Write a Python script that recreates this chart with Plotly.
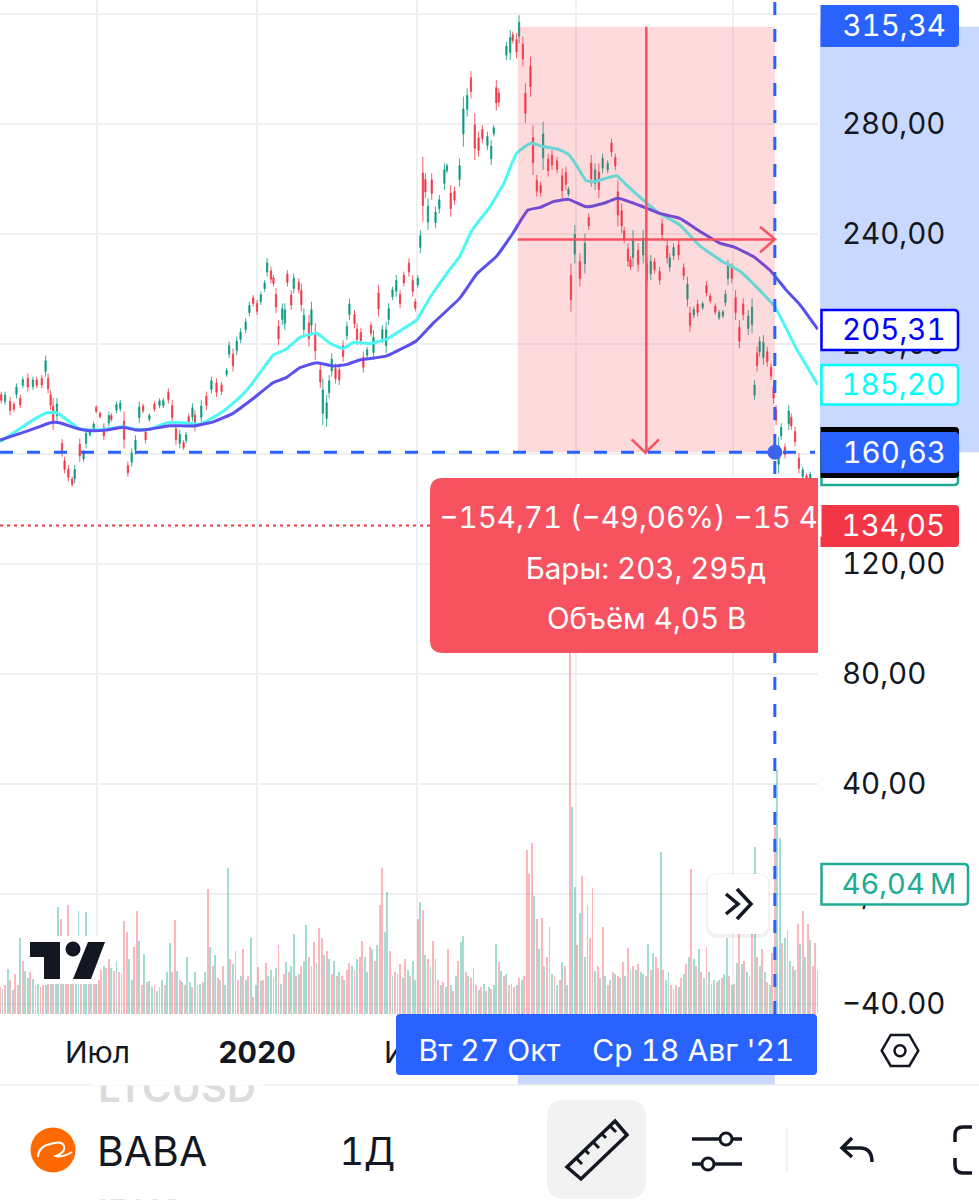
import plotly.graph_objects as go

FONT = "Inter"
INK = "#131722"
BLUE = "#2962ff"
RED = "#f23645"
TEAL = "#089981"
PINK = "#f7525f"
BAND = "#c8d8fe"
GRID = "#f0f0f3"
VOL_UP = "rgba(34,171,148,0.42)"
VOL_DOWN = "rgba(247,82,95,0.42)"

PLOT_W = 818
PLOT_H = 1014

# candles: bar number on the time scale, prices
candle_bar = [
    1, 4, 8, 11, 13, 16, 18, 22, 26, 29, 33, 36, 38, 40, 42, 45, 49, 51, 54, 57, 59, 63, 66, 68, 71, 74, 76, 79, 82, 86,
    88, 92, 95, 98, 101, 104, 107, 110, 113, 115, 118, 122, 126, 129, 133, 136, 139, 142, 145, 147, 149, 152, 154, 159,
    163, 167, 171, 175, 179, 181, 184, 187, 190, 194, 197, 200, 203, 206, 209, 211, 214, 216, 218, 220, 223, 225, 227,
    230, 232, 236, 238, 240, 244, 246, 249, 253, 255, 258, 260, 262, 265, 268, 271, 274, 276, 280, 282, 285, 287, 290,
    293, 295, 299, 302, 305, 307, 310, 313, 316, 319, 323, 326, 328, 330, 332, 334, 336, 338, 341, 344, 347, 351, 353,
    356, 359, 363, 366, 369, 372, 375, 378, 381, 385, 388, 390, 392, 394, 400, 403, 405, 408, 410, 413, 415, 419, 421,
    424, 427, 429, 433, 436, 440, 444, 447, 449, 451, 454, 458, 462, 465, 467, 470, 473, 476, 480, 483, 486, 488, 491,
    493, 496, 498, 500, 504, 508, 511, 514, 517, 521, 523, 527, 529, 532, 536, 540, 543, 545, 548, 551, 555, 558, 561,
    565, 568, 571, 573, 575, 578, 581, 584, 587, 591, 594, 596, 598, 600, 603, 606, 609, 611, 613, 615, 617, 620, 623,
    625, 628, 631, 634, 637, 640, 643,
]
candle_high = [
    182.7, 182.7, 180.8, 179.0, 185.7, 181.5, 188.1, 189.3, 188.1, 188.1, 188.7, 195.8, 189.3, 183.3, 180.3, 180.3,
    165.4, 159.0, 156.0, 151.8, 156.0, 165.7, 161.4, 169.3, 169.3, 171.8, 177.8, 175.4, 171.2, 175.4, 174.8, 179.1,
    179.7, 175.4, 157.2, 162.0, 166.8, 179.1, 178.4, 169.3, 174.8, 179.1, 180.3, 180.3, 183.9, 179.7, 171.2, 168.8,
    165.1, 168.0, 174.8, 178.4, 176.0, 179.6, 182.7, 188.1, 187.5, 186.3, 191.2, 200.9, 198.4, 202.7, 205.7, 209.4,
    215.4, 217.8, 216.0, 219.1, 223.3, 231.2, 228.1, 225.1, 220.3, 208.7, 214.8, 214.8, 226.9, 219.6, 225.7, 223.9,
    222.0, 213.0, 210.6, 215.4, 207.5, 192.9, 187.5, 181.5, 188.7, 196.6, 192.9, 192.4, 201.4, 208.1, 216.6, 212.4,
    207.5, 205.7, 197.2, 199.0, 208.1, 205.1, 221.5, 206.9, 208.1, 214.8, 220.9, 225.1, 219.6, 226.3, 231.2, 225.1,
    216.6, 225.1, 241.5, 268.1, 262.1, 253.0, 262.1, 249.9, 254.2, 265.7, 265.7, 257.8, 257.2, 267.5, 290.0, 293.0,
    299.3, 283.9, 277.2, 279.6, 277.2, 274.2, 279.6, 296.0, 293.0, 309.9, 314.2, 313.6, 313.0, 319.6, 311.8, 294.8,
    304.5, 279.6, 261.5, 259.0, 280.8, 269.3, 270.5, 268.1, 263.9, 264.5, 257.2, 229.3, 243.3, 233.0, 240.2, 247.5,
    268.7, 265.7, 265.7, 269.3, 266.9, 274.8, 269.3, 259.6, 251.2, 242.7, 236.6, 231.8, 241.5, 236.6, 241.5, 231.8,
    232.4, 231.2, 228.1, 245.7, 237.8, 233.0, 236.6, 237.8, 229.3, 224.5, 213.6, 213.6, 216.0, 215.4, 222.7, 218.4,
    214.8, 212.4, 212.4, 219.6, 230.6, 229.4, 219.6, 208.7, 216.6, 212.4, 216.6, 186.9, 199.0, 202.7, 203.3, 199.0,
    193.0, 186.3, 177.8, 166.3, 171.2, 163.9, 177.8, 174.8, 170.0, 160.3, 155.4, 153.0, 153.6, 149.4,
]
candle_low = [
    178.4, 177.9, 174.2, 175.4, 180.3, 176.7, 183.9, 182.7, 183.3, 183.9, 183.9, 188.1, 182.0, 176.0, 168.8, 171.8,
    159.0, 153.0, 150.0, 148.1, 149.4, 157.2, 157.2, 162.1, 166.3, 168.2, 174.8, 173.0, 165.1, 170.0, 171.8, 174.8,
    175.4, 162.0, 151.8, 155.4, 159.7, 171.2, 174.8, 163.9, 171.8, 175.4, 176.7, 176.7, 178.4, 171.2, 163.3, 162.1,
    161.5, 163.9, 170.0, 171.8, 168.2, 171.2, 176.0, 182.0, 180.8, 181.5, 188.1, 194.8, 190.0, 196.0, 200.3, 203.9,
    210.0, 213.6, 210.6, 214.2, 219.0, 224.5, 222.1, 220.9, 211.2, 199.6, 206.9, 205.1, 220.9, 212.4, 218.4, 218.4,
    211.8, 202.7, 199.0, 203.9, 194.2, 183.9, 170.5, 170.0, 180.3, 188.1, 185.7, 185.1, 193.6, 201.4, 208.7, 205.7,
    199.7, 199.7, 189.6, 194.8, 202.7, 194.2, 209.9, 200.3, 196.6, 206.9, 216.0, 217.2, 213.0, 220.9, 224.5, 217.2,
    211.8, 220.3, 233.0, 244.5, 253.0, 241.5, 252.4, 242.1, 247.5, 256.0, 262.1, 246.3, 250.6, 257.2, 271.8, 282.7,
    289.3, 266.9, 268.1, 273.0, 270.5, 265.1, 275.4, 284.9, 286.3, 303.3, 303.3, 309.3, 303.9, 309.3, 300.9, 280.3,
    289.9, 261.5, 253.6, 253.6, 263.3, 260.9, 263.3, 262.1, 253.0, 256.0, 253.6, 211.8, 229.3, 220.9, 225.7, 241.5,
    257.2, 256.0, 253.0, 262.1, 262.1, 268.1, 263.3, 242.7, 240.3, 236.6, 228.1, 226.9, 228.1, 226.3, 229.3, 220.9,
    223.3, 225.7, 221.5, 237.8, 229.3, 226.3, 230.6, 230.6, 223.3, 213.6, 204.5, 209.4, 210.0, 212.4, 217.2, 214.8,
    210.6, 208.7, 209.4, 213.6, 221.5, 222.1, 208.7, 198.4, 208.7, 203.3, 203.9, 179.6, 190.0, 195.4, 192.4, 191.8,
    186.9, 178.4, 170.5, 153.0, 165.1, 158.4, 168.8, 168.8, 162.7, 153.0, 150.6, 149.4, 149.4, 145.7,
]
candle_open = [
    181.6, 179.1, 179.1, 178.1, 181.7, 180.3, 185.0, 187.6, 184.5, 187.0, 187.5, 190.0, 187.5, 181.5, 177.4, 173.9,
    163.8, 157.5, 154.5, 150.9, 151.0, 163.6, 158.2, 163.9, 167.0, 169.1, 177.0, 174.8, 169.7, 171.3, 174.0, 175.9,
    176.5, 172.0, 155.8, 157.0, 161.5, 173.2, 177.5, 168.0, 172.6, 178.2, 177.6, 177.6, 182.5, 177.6, 169.2, 163.8,
    164.2, 164.9, 173.6, 173.5, 174.1, 173.3, 181.0, 183.5, 185.8, 185.1, 188.9, 196.3, 196.3, 197.7, 201.7, 205.3,
    211.4, 216.8, 214.7, 215.4, 220.1, 226.2, 226.6, 224.1, 218.0, 206.4, 208.9, 207.5, 225.4, 217.8, 220.2, 222.5,
    219.5, 205.3, 207.7, 206.8, 204.2, 190.6, 174.8, 172.9, 182.4, 190.2, 191.1, 190.6, 199.4, 203.1, 210.7, 210.7,
    205.5, 204.2, 195.3, 195.9, 206.8, 196.9, 218.6, 202.0, 199.5, 208.9, 217.2, 219.2, 218.0, 225.0, 229.5, 223.1,
    215.4, 221.5, 235.1, 262.2, 259.8, 244.4, 259.7, 244.1, 249.2, 258.4, 263.0, 254.9, 255.5, 259.8, 276.4, 285.3,
    296.8, 279.7, 274.9, 278.0, 272.2, 267.4, 276.5, 293.2, 291.3, 305.0, 306.0, 312.5, 310.7, 311.9, 309.1, 291.2,
    300.9, 275.1, 259.5, 257.7, 267.7, 267.2, 268.7, 266.6, 261.2, 262.4, 254.5, 224.9, 232.8, 230.0, 229.3, 246.0,
    265.8, 258.4, 262.5, 263.9, 263.3, 273.1, 267.8, 255.4, 248.5, 241.2, 234.5, 230.6, 231.5, 234.0, 232.4, 223.6,
    225.6, 229.8, 226.4, 243.7, 235.7, 228.0, 232.1, 236.0, 227.8, 216.3, 211.3, 210.5, 214.5, 213.2, 221.3, 217.5,
    213.8, 209.6, 210.2, 215.1, 223.8, 227.6, 216.9, 206.1, 214.6, 205.6, 207.1, 181.4, 196.8, 197.2, 195.1, 197.2,
    191.5, 184.3, 176.0, 156.3, 166.6, 162.5, 171.0, 173.3, 168.2, 158.5, 151.8, 152.1, 150.4, 148.5,
]
candle_close = [
    179.5, 181.5, 175.9, 176.3, 184.3, 177.9, 187.0, 184.4, 186.9, 185.0, 185.1, 193.9, 183.8, 177.8, 171.7, 178.2,
    160.6, 154.5, 151.5, 149.0, 154.4, 159.3, 160.4, 167.5, 168.5, 170.9, 175.6, 173.6, 166.6, 174.0, 172.6, 178.0,
    178.6, 165.4, 153.2, 160.4, 165.0, 177.1, 175.7, 165.2, 174.0, 176.3, 179.4, 179.4, 179.8, 173.3, 165.3, 167.1,
    162.4, 167.0, 171.2, 176.8, 170.2, 177.5, 177.7, 186.6, 182.5, 182.7, 190.4, 199.4, 192.1, 201.0, 204.3, 208.0,
    214.0, 214.7, 211.9, 217.9, 222.2, 229.5, 223.6, 222.0, 213.5, 201.9, 212.8, 212.4, 222.4, 214.2, 223.9, 219.8,
    214.3, 210.4, 201.9, 212.5, 197.5, 186.2, 183.3, 178.6, 186.6, 194.5, 187.5, 186.9, 195.5, 206.4, 214.6, 207.4,
    201.7, 201.2, 191.5, 197.9, 204.0, 202.4, 212.8, 205.2, 205.2, 212.8, 219.7, 223.1, 214.7, 222.2, 226.2, 219.2,
    213.0, 223.9, 239.4, 250.4, 255.3, 250.1, 254.8, 247.9, 252.5, 263.3, 264.8, 249.2, 252.3, 264.9, 285.5, 290.4,
    291.8, 271.2, 270.4, 274.7, 275.5, 271.9, 278.6, 287.7, 288.0, 308.3, 311.5, 310.4, 306.2, 317.0, 303.6, 283.9,
    293.6, 266.0, 255.6, 255.0, 276.4, 263.0, 265.1, 263.6, 255.7, 258.1, 256.3, 216.2, 239.8, 223.9, 236.6, 243.0,
    260.1, 263.3, 256.2, 267.5, 265.7, 269.8, 264.8, 246.9, 243.0, 238.1, 230.2, 228.1, 238.2, 228.9, 238.5, 229.1,
    230.1, 227.1, 223.2, 239.8, 231.4, 231.3, 235.1, 232.4, 224.8, 221.8, 206.8, 212.6, 211.5, 214.7, 218.6, 215.7,
    211.6, 211.5, 211.7, 218.1, 228.3, 223.9, 211.4, 201.0, 210.7, 210.1, 213.4, 185.1, 192.2, 200.9, 200.6, 193.6,
    188.4, 180.4, 172.3, 163.0, 169.7, 159.8, 175.6, 170.3, 164.5, 154.8, 154.2, 150.3, 152.6, 146.6,
]

# moving averages, read at the bends of each line
fast_ma_bar = [
    0, 10, 24, 37, 45, 53, 63, 74, 87, 97, 108, 118, 132, 145, 158, 174, 184, 195, 205, 216, 226, 237, 250, 261, 271,
    279, 292, 305, 319, 329, 340, 353, 363, 373, 387, 395, 398, 408, 419, 429, 440, 449, 456, 463, 470, 478, 487, 495,
    508, 521, 537, 552, 569, 585, 600, 612, 629, 646,
]
fast_ma = [
    164.5, 167.5, 171.8, 175.0, 175.0, 172.4, 169.1, 168.7, 169.3, 169.9, 169.0, 169.0, 171.4, 171.4, 170.9, 174.8,
    178.4, 183.3, 189.3, 196.0, 198.1, 202.4, 203.9, 200.2, 198.4, 200.5, 200.2, 201.7, 205.7, 208.7, 217.2, 225.7,
    231.8, 241.5, 249.9, 256.0, 258.4, 269.3, 273.0, 271.8, 270.9, 269.0, 264.5, 259.4, 259.0, 260.2, 261.2, 257.8,
    252.4, 247.5, 243.3, 236.0, 230.5, 226.3, 219.6, 213.6, 198.4, 185.2,
]
slow_ma_bar = [
    0, 16, 29, 40, 47, 61, 71, 84, 97, 108, 118, 134, 153, 169, 184, 200, 216, 226, 237, 250, 263, 274, 284, 305, 319,
    329, 342, 363, 377, 392, 405, 417, 427, 437, 449, 463, 477, 488, 508, 521, 537, 553, 569, 579, 595, 608, 621, 632,
    646,
]
slow_ma = [
    165.1, 167.5, 169.6, 171.4, 171.4, 169.3, 168.5, 168.7, 169.7, 168.7, 169.0, 170.3, 170.2, 171.8, 174.8, 180.2,
    186.0, 187.8, 191.4, 193.2, 192.0, 192.6, 194.2, 195.6, 198.7, 201.2, 207.5, 216.6, 225.7, 231.8, 240.2, 248.7,
    249.7, 251.8, 252.6, 249.9, 251.2, 253.0, 249.9, 247.5, 245.7, 240.9, 236.6, 235.4, 231.8, 226.9, 219.6, 214.2,
    205.3,
]

# volume in millions, one value per two bars
vol_step = 2
vol_values = [
    28, 26, 30, 47, 36, 25, 42, 30, 80, 56, 45, 38, 44, 37, 30, 32, 28, 30, 30, 32,
    34, 40, 45, 112, 100, 42, 50, 115, 60, 45, 50, 108, 40, 45, 107, 40, 35, 38, 40, 36,
    46, 50, 48, 58, 48, 45, 56, 44, 42, 98, 86, 58, 36, 70, 108, 77, 30, 63, 34, 35,
    28, 30, 24, 28, 36, 30, 44, 75, 44, 99, 45, 36, 34, 30, 60, 34, 28, 44, 30, 32,
    34, 44, 131, 70, 50, 62, 38, 36, 50, 30, 153, 58, 52, 66, 36, 40, 68, 36, 40, 80,
    18, 30, 49, 35, 36, 54, 40, 46, 38, 48, 73, 32, 42, 55, 44, 50, 84, 40, 42, 50,
    56, 93, 60, 50, 76, 54, 90, 80, 62, 66, 58, 42, 56, 40, 44, 40, 36, 46, 54, 50,
    46, 58, 60, 77, 60, 44, 70, 68, 56, 72, 114, 153, 86, 128, 66, 40, 44, 42, 52, 38,
    58, 46, 40, 56, 36, 100, 118, 109, 62, 58, 50, 77, 58, 36, 30, 34, 28, 68, 30, 24,
    40, 56, 76, 82, 44, 40, 38, 48, 30, 25, 28, 32, 24, 28, 26, 30, 74, 55, 45, 40,
    42, 30, 32, 28, 30, 38, 36, 40, 172, 147, 180, 124, 100, 68, 101, 50, 60, 91, 42, 40,
    30, 36, 55, 50, 30, 400, 217, 133, 72, 106, 145, 60, 114, 80, 132, 45, 50, 38, 91, 40,
    30, 36, 44, 42, 40, 38, 55, 40, 69, 46, 50, 46, 52, 44, 42, 40, 74, 46, 64, 60,
    48, 170, 46, 36, 44, 30, 26, 30, 28, 38, 42, 52, 60, 152, 58, 50, 68, 44, 38, 70,
    44, 32, 36, 34, 36, 38, 42, 80, 40, 30, 32, 54, 88, 52, 56, 44, 40, 90, 175, 60,
    50, 68, 44, 34, 30, 64, 196, 256, 185, 75, 80, 88, 56, 50, 46, 95, 74, 108, 60, 95,
    78, 50, 75, 46.04,
]
vol_dirs = (
    "dudu dudd uduu dudu ddud uduu dudd uduu duud udud dudd udud uddu uddu dudu "
    "udud uduu ddud uduu dudu dudu dudu duud uudu dudu dudu dduu dudu dudu udud "
    "uudu dudd udud udud uddu dudd uudu dudd uudu dudu dudu udud udud udud udud "
    "uduu dudu dudu dudu udud udud udud dddu dudu ddud udud uduu dudu uddu dudu "
    "dudu dudu dudu duud udud dudu udud udud udud udud udud uduu dudu dudu ddud "
    "udud uddu udud udud udud uddu"
).replace(" ", "")
assert len(vol_values) == len(vol_dirs)

# time scale and price scale ticks
month_bars = [77, 203, 329, 455, 579]
month_labels = ["Июл", "<b>2020</b>", "Июл", "<b>2021</b>", "Июл"]
price_ticks = [320, 280, 240, 200, 160, 120, 80, 40, 0, -40]
price_labels = ["320,00", "280,00", "240,00", "200,00", "160,00", "120,00", "80,00", "40,00", "0,00", "−40.00"]

# ruler tool
start_bar = 409
end_bar = 612
start_price = 315.34
end_price = 160.63
stop_price = 134.05
mid_bar = 510.5
mid_price = 238.0


def X(px):
    return px / PLOT_W


def Y(py):
    return 1 - py / PLOT_H


def pts(*points):
    """SVG path from page pixels, converted to paper coordinates."""
    out = []
    for i, (x, y) in enumerate(points):
        out.append(f"{'M' if i == 0 else 'L'} {X(x):.5f} {Y(y):.5f}")
    return " ".join(out)


def rrect(x0, y0, x1, y1, r=6, left=True, right=True):
    """Rounded rect path in page pixels; left/right pick which side is rounded."""
    rl = r if left else 0
    rr = r if right else 0
    return (
        f"M {X(x0 + rl):.5f} {Y(y0):.5f} L {X(x1 - rr):.5f} {Y(y0):.5f} "
        f"Q {X(x1):.5f} {Y(y0):.5f} {X(x1):.5f} {Y(y0 + rr):.5f} "
        f"L {X(x1):.5f} {Y(y1 - rr):.5f} Q {X(x1):.5f} {Y(y1):.5f} {X(x1 - rr):.5f} {Y(y1):.5f} "
        f"L {X(x0 + rl):.5f} {Y(y1):.5f} Q {X(x0):.5f} {Y(y1):.5f} {X(x0):.5f} {Y(y1 - rl):.5f} "
        f"L {X(x0):.5f} {Y(y0 + rl):.5f} Q {X(x0):.5f} {Y(y0):.5f} {X(x0 + rl):.5f} {Y(y0):.5f} Z"
    )


def curve(*cmds):
    """Path from ('M'|'L', x, y) and ('Q', cx, cy, x, y) in page pixels."""
    out = []
    for c in cmds:
        vals = " ".join(
            f"{X(v):.5f}" if i % 2 == 0 else f"{Y(v):.5f}" for i, v in enumerate(c[1:])
        )
        out.append(f"{c[0]} {vals}")
    return " ".join(out)


def paper_path(path, fill=None, color=None, width=0, layer="above"):
    return dict(
        type="path", xref="paper", yref="paper", path=path, layer=layer,
        fillcolor=fill if fill else "rgba(0,0,0,0)",
        line=dict(color=color if color else "rgba(0,0,0,0)", width=width),
    )


def circle(cx, cy, r, fill=None, color=None, width=0):
    return dict(
        type="circle", xref="paper", yref="paper", layer="above",
        x0=X(cx - r), x1=X(cx + r), y0=Y(cy - r), y1=Y(cy + r),
        fillcolor=fill if fill else "rgba(0,0,0,0)",
        line=dict(color=color if color else "rgba(0,0,0,0)", width=width),
    )


def text(s, x, y, size=29.5, color=INK, anchor="center", weight=None):
    return dict(
        text=s, xref="paper", yref="paper", x=X(x), y=Y(y), showarrow=False,
        xanchor=anchor, yanchor="middle", borderpad=0,
        font=dict(family=FONT, size=size, color=color, weight=weight),
    )


def cover(x0, y0, x1, y1, color):
    # annotations sit above every shape, so cut-off text needs an annotation on top of it
    return dict(
        text=" ", xref="paper", yref="paper", x=X(x0), y=Y(y0), showarrow=False,
        xanchor="left", yanchor="top", width=x1 - x0, height=y1 - y0,
        bgcolor=color, borderpad=0, font=dict(size=1),
    )


fig = go.Figure()

fig.add_trace(go.Candlestick(
    x=candle_bar, open=candle_open, high=candle_high, low=candle_low, close=candle_close,
    increasing=dict(line=dict(color=TEAL, width=0.8), fillcolor=TEAL),
    decreasing=dict(line=dict(color=RED, width=0.8), fillcolor=RED),
    whiskerwidth=0, hoverinfo="skip",
))
fig.add_trace(go.Scatter(
    x=fast_ma_bar, y=fast_ma, mode="lines", line=dict(color="#4df7f4", width=3, shape="spline", smoothing=0.4),
    hoverinfo="skip",
))
fig.add_trace(go.Scatter(
    x=slow_ma_bar, y=slow_ma, mode="lines", line=dict(color="#5b4fee", width=3, shape="spline", smoothing=0.4),
    hoverinfo="skip",
))
fig.add_trace(go.Bar(
    x=[i * vol_step for i in range(len(vol_values))], y=vol_values, yaxis="y2", width=1.5,
    marker=dict(color=[VOL_UP if d == "u" else VOL_DOWN for d in vol_dirs], line_width=0),
    hoverinfo="skip",
))

shapes = [
    # highlighted range on the price scale and the time scale
    dict(type="rect", xref="paper", yref="y", x0=X(820), x1=X(979), y0=end_price, y1=start_price,
         fillcolor=BAND, line_width=0, layer="below"),
    dict(type="rect", xref="x", yref="paper", x0=start_bar, x1=end_bar, y0=Y(1075), y1=Y(1085),
         fillcolor=BAND, line_width=0, layer="below"),
    dict(type="line", xref="paper", yref="paper", x0=0, x1=X(979), y0=Y(1085), y1=Y(1085),
         line=dict(color="#eeeeee", width=1.5), layer="below"),
    # ruler: box, cross arrows, guide lines
    dict(type="rect", xref="x", yref="y", x0=start_bar, x1=end_bar, y0=end_price, y1=start_price,
         fillcolor="rgba(242,54,69,0.18)", line_width=0),
    dict(type="line", xref="x", yref="y", x0=mid_bar, x1=mid_bar, y0=end_price, y1=start_price,
         line=dict(color=PINK, width=2.5)),
    dict(type="line", xref="x", yref="y", x0=start_bar, x1=end_bar, y0=mid_price, y1=mid_price,
         line=dict(color=PINK, width=2.5)),
    paper_path(pts((631.7, 439.3), (645.5, 452.7), (659, 439.3)), color=PINK, width=2.5),
    paper_path(pts((760, 226.7), (775, 239.3), (760, 252.3)), color=PINK, width=2.5),
    dict(type="line", xref="paper", yref="y", x0=0, x1=1, y0=stop_price, y1=stop_price,
         line=dict(color=RED, width=2, dash="3px,4px")),
    dict(type="line", xref="paper", yref="y", x0=0, x1=X(815), y0=end_price, y1=end_price,
         line=dict(color=BLUE, width=3, dash="13px,14px")),
    dict(type="line", xref="x", yref="paper", x0=end_bar, x1=end_bar, y0=0, y1=1,
         line=dict(color=BLUE, width=3, dash="13px,14px")),
    dict(type="circle", xref="x", yref="y", xsizemode="pixel", ysizemode="pixel", xanchor=end_bar, yanchor=end_price,
         x0=-7.5, x1=7.5, y0=-7.5, y1=7.5, fillcolor="#3d63ee", line_width=0),
    # tooltip
    paper_path(rrect(430, 478, 818, 653, r=13, right=False), fill=PINK),
    # price labels
    paper_path(rrect(820.5, 5, 959, 47, r=4, left=False), fill=BLUE),
    paper_path(rrect(821.5, 310, 958, 350, r=4, left=False), fill="#ffffff", color="#0000ff", width=2.5),
    paper_path(rrect(821.5, 365, 958, 404.5, r=4, left=False), fill="#ffffff", color="#00ffff", width=2.5),
    paper_path(rrect(821.5, 440, 958, 485, r=4, left=False), fill="#ffffff", color="#22ab94", width=2.5),
    paper_path(rrect(820.5, 427, 959, 478, r=4, left=False), fill="#000000"),
    paper_path(rrect(820.5, 432, 959, 473, r=4, left=False), fill=BLUE),
    paper_path(rrect(820.5, 505, 959, 547, r=4, left=False), fill=RED),
    paper_path(rrect(821.5, 864, 968, 904.5, r=4, left=False), fill="#ffffff", color="#22ab94", width=2.5),
    # date labels
    paper_path(rrect(396, 1014, 817, 1075, r=4), fill=BLUE),
    # scroll button
    paper_path(rrect(706, 873, 770, 938, r=12), fill="rgba(0,0,0,0.05)"),
    paper_path(rrect(708, 874, 768, 934, r=10), fill="#ffffff"),
    paper_path(pts((726, 894), (738, 904), (726, 914)), color=INK, width=3.5),
    paper_path(pts((737, 889), (751, 904), (737, 919)), color=INK, width=3.5),
    # watermark logo
    paper_path(rrect(36, 936, 98, 984, r=0), fill="#ffffff"),
    paper_path(pts((30, 942), (60, 942), (60, 979), (44, 979), (44, 957), (30, 957)) + " Z", fill=INK),
    paper_path(pts((88, 942), (105, 942), (91, 979), (73, 979)) + " Z", fill=INK),
    circle(73, 949, 7.5, fill=INK),
    # settings hexagon
    paper_path(pts((881.7, 1050.7), (890.7, 1035), (909.3, 1035), (918.3, 1050.7), (909.3, 1066), (890.7, 1066)) + " Z",
               color=INK, width=2.5),
    circle(900, 1050.7, 5.5, color=INK, width=2.5),
    # symbol logo
    circle(53, 1150, 22.5, fill="#ff6a00"),
    paper_path(curve(("M", 38, 1157), ("Q", 38, 1147, 50, 1144), ("Q", 62, 1140, 64, 1146),
                     ("Q", 66, 1152, 56, 1156), ("Q", 62, 1158, 72, 1152)), color="#ffffff", width=2),
    # toolbar
    paper_path(rrect(547, 1100, 646, 1199, r=18), fill="#f2f2f2"),
    paper_path(pts((567, 1167), (615, 1121), (627, 1135), (581, 1179)) + " Z", color=INK, width=3.5),
    paper_path(pts((576, 1158), (582, 1164)), color=INK, width=3),
    paper_path(pts((585, 1150), (589, 1154)), color=INK, width=3),
    paper_path(pts((593, 1142), (599, 1148)), color=INK, width=3),
    paper_path(pts((602, 1134), (606, 1138)), color=INK, width=3),
    paper_path(pts((610, 1126), (616, 1132)), color=INK, width=3),
    paper_path(pts((692, 1139), (720, 1139)), color=INK, width=3.5),
    paper_path(pts((732, 1139), (742, 1139)), color=INK, width=3.5),
    circle(726, 1139, 6, color=INK, width=3),
    paper_path(pts((692, 1164), (702, 1164)), color=INK, width=3.5),
    paper_path(pts((714, 1164), (742, 1164)), color=INK, width=3.5),
    circle(708, 1164, 6, color=INK, width=3),
    paper_path(pts((787, 1127), (787, 1172)), color="#eeeeee", width=1.5),
    paper_path(pts((852, 1138), (842, 1148), (852, 1157)), color=INK, width=3.5),
    paper_path(curve(("M", 842, 1148), ("L", 860, 1148), ("Q", 872, 1148, 872, 1162)), color=INK, width=3.5),
    paper_path(curve(("M", 972, 1127), ("L", 963, 1127), ("Q", 955, 1127, 955, 1135), ("L", 955, 1142)), color=INK, width=3.5),
    paper_path(curve(("M", 972, 1173), ("L", 963, 1173), ("Q", 955, 1173, 955, 1165), ("L", 955, 1158)), color=INK, width=3.5),
]

annotations = [
    # ghost rows of the scrolling symbol list behind the toolbar, cut by the edges
    text("LTCUSD", 97, 1087, size=40, color="#dcdcdc", anchor="left", weight=600),
    cover(90, 1068, 262, 1084, "#ffffff"),
    text("IBUS", 97, 1212, size=37, color="#e2e2e2", anchor="left", weight=600),
    # tooltip, first line runs off its right edge
    text("−154,71 (−49,06%) −15 471", 458, 517, color="#ffffff", anchor="left"),
    cover(818, 505, 821, 535, "#ffffff"),
    cover(821, 505, 880, 535, RED),
    text("Бары: 203, 295д", 646, 568, color="#ffffff"),
    text("Объём 4,05 B", 646, 618, color="#ffffff"),
    text("315,34", 893.5, 25.5, color="#ffffff"),
    text("205,31", 893.5, 329, color="#0000ff"),
    text("185,20", 893.5, 384, color="#00ffff"),
    text("160,63", 893.5, 452, color="#ffffff"),
    text("134,05", 893.5, 525, color="#ffffff"),
    text("46,04\u2009M", 899, 883, size=29, color="#22ab94"),
    text("Вт 27 Окт", 489.5, 1050, size=30, color="#ffffff"),
    text("Ср 18 Авг '21", 693.5, 1050, size=30, color="#ffffff"),
    text("BABA", 96, 1151, size=41, color=INK, anchor="left"),
    text("1Д", 367, 1151, size=38, color=INK),
]

fig.update_layout(
    width=979, height=1200, autosize=False,
    margin=dict(l=0, r=979 - PLOT_W, t=0, b=1200 - PLOT_H, pad=0),
    paper_bgcolor="#ffffff", plot_bgcolor="#ffffff",
    showlegend=False, barmode="overlay", bargap=0, hovermode=False,
    font=dict(family=FONT, color=INK),
    shapes=shapes, annotations=annotations,
    xaxis=dict(
        range=[0, 646.1], tickmode="array", tickvals=month_bars, ticktext=month_labels,
        showgrid=True, gridcolor=GRID, gridwidth=2, zeroline=False, showline=False,
        ticks="outside", ticklen=12, tickcolor="rgba(0,0,0,0)",
        tickfont=dict(family=FONT, size=30, color=INK), tickangle=0,
        rangeslider=dict(visible=False), fixedrange=True,
    ),
    yaxis=dict(
        range=[-43.6, 325.09], side="right", tickmode="array", tickvals=price_ticks, ticktext=price_labels,
        showgrid=True, gridcolor=GRID, gridwidth=2, zeroline=False, showline=False,
        ticks="outside", ticklen=17, tickcolor="rgba(0,0,0,0)",
        tickfont=dict(family=FONT, size=29.5, color=INK), fixedrange=True,
    ),
    yaxis2=dict(range=[0, 1065], overlaying="y", visible=False, fixedrange=True),
)

# page margin off, tabular digits like the app's font, then redraw so text is measured with them
fig.write_html(
    "out.html",
    config=dict(displayModeBar=False),
    post_script=(
        "document.body.style.margin='0';document.body.style.overflow='hidden';"
        "document.body.style.fontFeatureSettings=\"'tnum'\";"
        "Plotly.redraw(document.getElementById('{plot_id}'));"
    ),
)
